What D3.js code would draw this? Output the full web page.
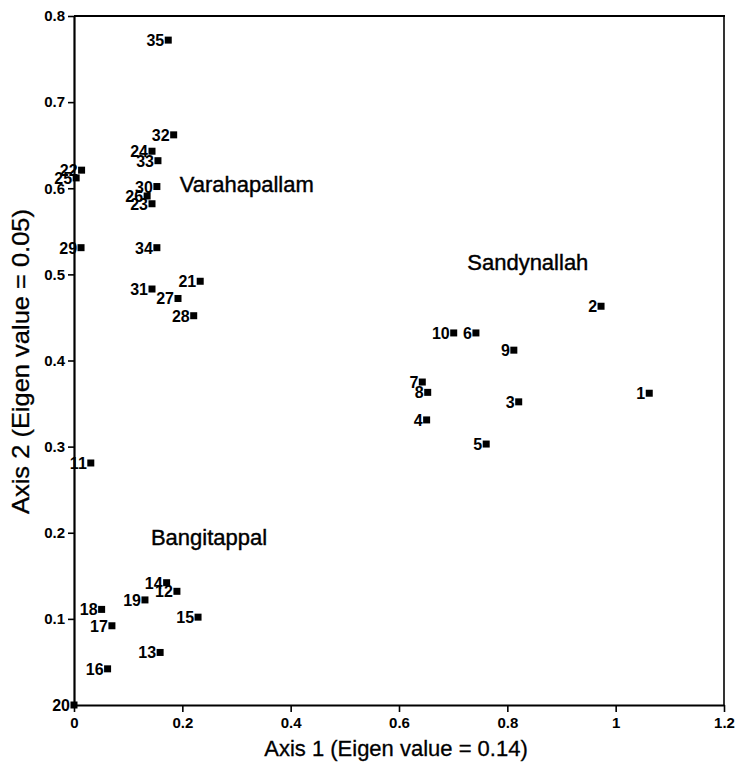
<!DOCTYPE html>
<html><head><meta charset="utf-8">
<script src="https://cdn.jsdelivr.net/npm/d3@7"></script>
<style>body{margin:0;background:#fff;} svg{display:block;}</style>
</head><body>
<svg id="chart" width="736" height="764"></svg>
<script>
const ids = ["1","2","3","4","5","6","7","8","9","10","11","12","13","14","15","16","17","18","19","20","21","22","23","24","25","26","27","28","29","30","31","32","33","34","35"];
const axis1 = [1.062,0.973,0.821,0.651,0.761,0.742,0.643,0.653,0.812,0.701,0.031,0.190,0.159,0.171,0.229,0.062,0.070,0.051,0.131,0.0,0.233,0.014,0.144,0.144,0.004,0.135,0.192,0.221,0.013,0.153,0.144,0.184,0.155,0.153,0.174];
const axis2 = [0.362,0.463,0.352,0.331,0.303,0.432,0.375,0.363,0.412,0.432,0.281,0.132,0.061,0.142,0.102,0.042,0.092,0.111,0.122,0.0,0.492,0.621,0.582,0.643,0.612,0.591,0.472,0.452,0.531,0.602,0.483,0.662,0.632,0.531,0.772];
const groupNames = ["Varahapallam","Sandynallah","Bangitappal"];
const groupX = [0.195,0.726,0.142];
const groupY = [0.596,0.505,0.186];
const xTicks = [0,0.2,0.4,0.6,0.8,1,1.2];
const yTicks = [0.1,0.2,0.3,0.4,0.5,0.6,0.7,0.8];
const xTitle = "Axis 1 (Eigen value = 0.14)";
const yTitle = "Axis 2 (Eigen value = 0.05)";

const svg = d3.select("#chart");
const x = d3.scaleLinear().domain([0,1.2]).range([74,724]);
const y = d3.scaleLinear().domain([0,0.8]).range([705,16]);
const font = "'Liberation Sans', Arial, Helvetica, sans-serif";

// frame top/right
svg.append("line").attr("x1",x(0)).attr("x2",x(1.2)+1).attr("y1",y(0.8)).attr("y2",y(0.8)).attr("stroke","#000").attr("stroke-width",2.2);
svg.append("line").attr("x1",x(1.2)).attr("x2",x(1.2)).attr("y1",y(0.8)).attr("y2",y(0)).attr("stroke","#000").attr("stroke-width",1.6);

const fmt = d => d3.format("~g")(d);
const xa = svg.append("g").attr("transform",`translate(0,${y(0)})`)
  .call(d3.axisBottom(x).tickValues(xTicks).tickFormat(fmt).tickSize(7).tickSizeOuter(0));
const ya = svg.append("g").attr("transform",`translate(${x(0)},0)`)
  .call(d3.axisLeft(y).tickValues(yTicks).tickFormat(fmt).tickSize(6).tickSizeOuter(0));
[xa,ya].forEach(g=>{
  g.select(".domain").attr("stroke","#000").attr("stroke-width",2.2);
  g.selectAll(".tick line").attr("stroke","#000").attr("stroke-width",1.6);
  g.selectAll(".tick text").attr("fill","#000").style("font-family",font).style("font-size","15px").style("font-weight","bold");
});
xa.selectAll(".tick text").attr("dy","0.85em");
ya.selectAll(".tick text").attr("x",-9);

// titles
svg.append("text").attr("x",396).attr("y",756).attr("text-anchor","middle")
  .style("font-family",font).style("font-size","22px").attr("fill","#000")
  .attr("stroke","#000").attr("stroke-width",0.3).text(xTitle);
svg.append("text").attr("transform",`translate(28.5,361.5) rotate(-90)`).attr("text-anchor","middle")
  .attr("textLength",305).attr("lengthAdjust","spacingAndGlyphs")
  .style("font-family",font).style("font-size","24px").attr("fill","#000")
  .attr("stroke","#000").attr("stroke-width",0.3).text(yTitle);

// group labels
svg.append("g").selectAll("text").data(groupNames).join("text")
  .attr("x",(d,i)=>x(groupX[i])).attr("y",(d,i)=>y(groupY[i]))
  .style("font-family",font).style("font-size","22px").attr("fill","#000")
  .attr("stroke","#000").attr("stroke-width",0.4).text(d=>d);

// points
const pts = ids.map((id,i)=>({id, a:axis1[i], b:axis2[i]}));
const s = 7;
svg.append("g").selectAll("rect").data(pts).join("rect")
  .attr("x",d=>x(d.a)-s/2).attr("y",d=>y(d.b)-s/2).attr("width",s).attr("height",s).attr("fill","#000");
svg.append("g").selectAll("text").data(pts).join("text")
  .attr("x",d=>x(d.a)-4).attr("y",d=>y(d.b)+6).attr("text-anchor","end")
  .style("font-family",font).style("font-size","16px").style("font-weight","bold").attr("fill","#000")
  .text(d=>d.id);
</script>
</body></html>
